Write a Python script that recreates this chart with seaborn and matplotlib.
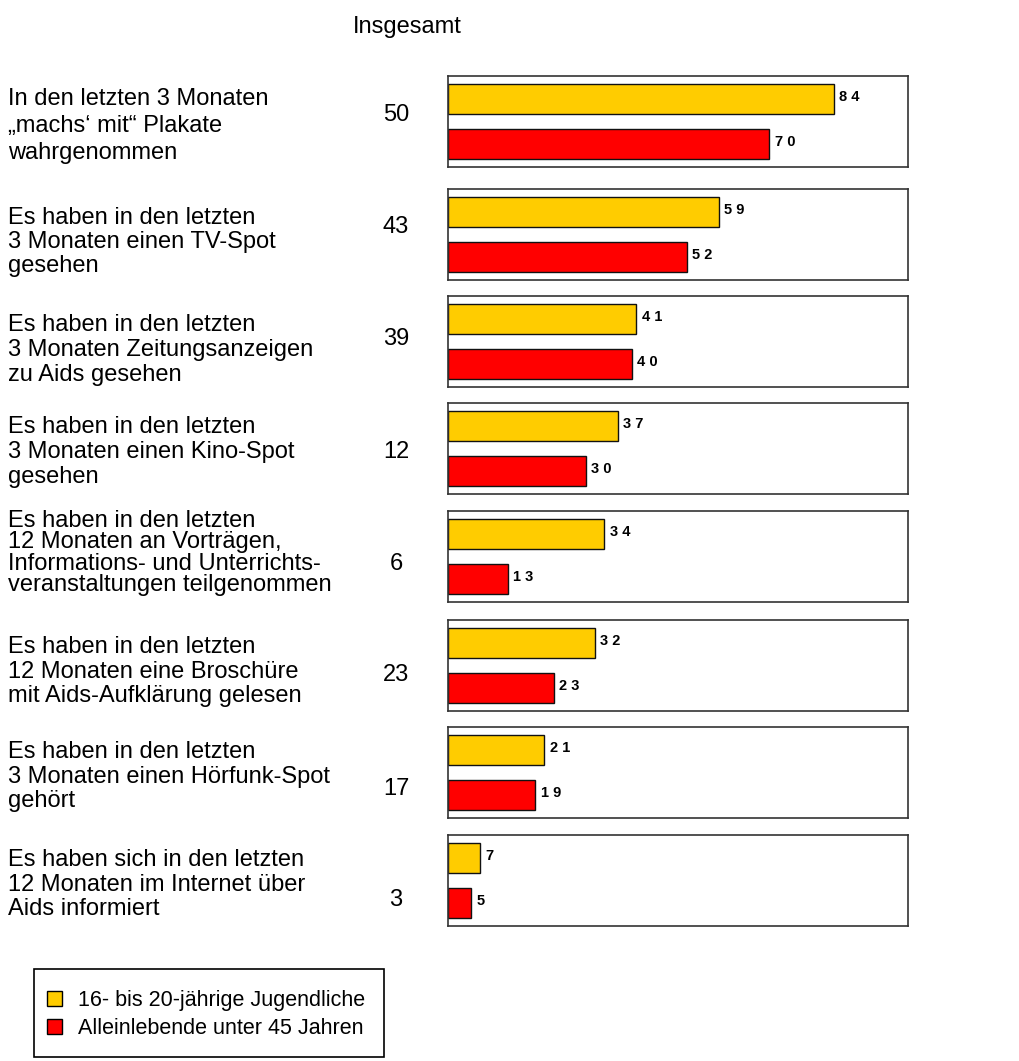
import matplotlib
matplotlib.use("Agg")
import matplotlib.pyplot as plt
from matplotlib.patches import Patch, Rectangle
import seaborn as sns
import pandas as pd

sns.set_style("white")
plt.rcParams['font.family'] = ['Liberation Sans', 'DejaVu Sans']
plt.rcParams['text.color'] = 'black'

# ---------------- data ----------------
categories = [
    "In den letzten 3 Monaten\n\u201emachs\u2018 mit\u201c Plakate\nwahrgenommen",
    "Es haben in den letzten\n3 Monaten einen TV-Spot\ngesehen",
    "Es haben in den letzten\n3 Monaten Zeitungsanzeigen\nzu Aids gesehen",
    "Es haben in den letzten\n3 Monaten einen Kino-Spot\ngesehen",
    "Es haben in den letzten\n12 Monaten an Vortr\u00e4gen,\nInformations- und Unterrichts-\nveranstaltungen teilgenommen",
    "Es haben in den letzten\n12 Monaten eine Brosch\u00fcre\nmit Aids-Aufkl\u00e4rung gelesen",
    "Es haben in den letzten\n3 Monaten einen H\u00f6rfunk-Spot\ngeh\u00f6rt",
    "Es haben sich in den letzten\n12 Monaten im Internet \u00fcber\nAids informiert",
]
insgesamt = [50, 43, 39, 12, 6, 23, 17, 3]
jugendliche = [84, 59, 41, 37, 34, 32, 21, 7]
alleinlebende = [70, 52, 40, 30, 13, 23, 19, 5]
series_names = ["16- bis 20-j\u00e4hrige Jugendliche", "Alleinlebende unter 45 Jahren"]
series_colors = ["#FFCC00", "#FF0000"]
header = "Insgesamt"

# ---------------- layout (pixels) ----------------
W, H = 1019, 1061
fig = plt.figure(figsize=(W / 100, H / 100), dpi=100)

def fx(px):
    return px / W

def fy(py):
    return 1 - py / H

box_left, box_w, box_h = 448, 460, 91
box_tops = [76, 189, 296, 403, 511, 620, 727, 835]
num_baselines = [121, 233, 345, 458, 570, 681, 795, 906]
text_tops = [88, 207, 314, 416, 510, 636, 741, 849]
line_sp = [1.30, 1.13, 1.17, 1.17, 0.97, 1.15, 1.15, 1.15]
FS = 17

for i in range(len(categories)):
    top = box_tops[i]
    ax = fig.add_axes([fx(box_left), fy(top + box_h), fx(box_w), box_h / H])
    df = pd.DataFrame({"Gruppe": series_names,
                       "Wert": [jugendliche[i], alleinlebende[i]]})
    sns.barplot(data=df, x="Wert", y="Gruppe", hue="Gruppe",
                palette=series_colors, orient="h", width=0.67,
                edgecolor="#111111", linewidth=1.0, legend=False,
                saturation=1, ax=ax)
    ax.set_xlim(0, 100.2)
    ax.set_ylim(1.51, -0.51)
    ax.set_xlabel("")
    ax.set_ylabel("")
    ax.set_xticks([])
    ax.set_yticks([])
    for s in ax.spines.values():
        s.set_visible(True)
        s.set_color("#333333")
        s.set_linewidth(1.2)
    for container in ax.containers:
        for bar, v in zip(container, container.datavalues):
            ax.annotate(" ".join(str(int(round(v)))),
                        xy=(bar.get_x() + bar.get_width(),
                            bar.get_y() + bar.get_height() / 2),
                        xytext=(4, 1.5), textcoords="offset points",
                        ha="left", va="center", fontsize=10.5,
                        fontweight="bold", color="black")
    # left description
    fig.text(fx(8), fy(text_tops[i]), categories[i], ha="left", va="top",
             fontsize=FS, linespacing=line_sp[i], color="black")
    # overall value
    fig.text(fx(396), fy(num_baselines[i]), str(insgesamt[i]), ha="center",
             va="baseline", fontsize=FS, color="black")

fig.text(fx(407), fy(33), header, ha="center", va="baseline", fontsize=FS)

# legend
handles = [Patch(facecolor=c, edgecolor="black", linewidth=1.0) for c in series_colors]
fig.legend(handles=handles, labels=series_names, loc="upper left",
           bbox_to_anchor=(fx(47), fy(990)), frameon=False, fontsize=15.5,
           handlelength=0.7, handleheight=0.7, handletextpad=0.75,
           labelspacing=0.32, borderpad=0, borderaxespad=0,
           labelcolor="black")
fig.patches.append(Rectangle((fx(34), fy(1057)), fx(350), (1057 - 969) / H,
                             transform=fig.transFigure, fill=False,
                             edgecolor="black", linewidth=1.2))

fig.savefig("out.png", dpi=100)
